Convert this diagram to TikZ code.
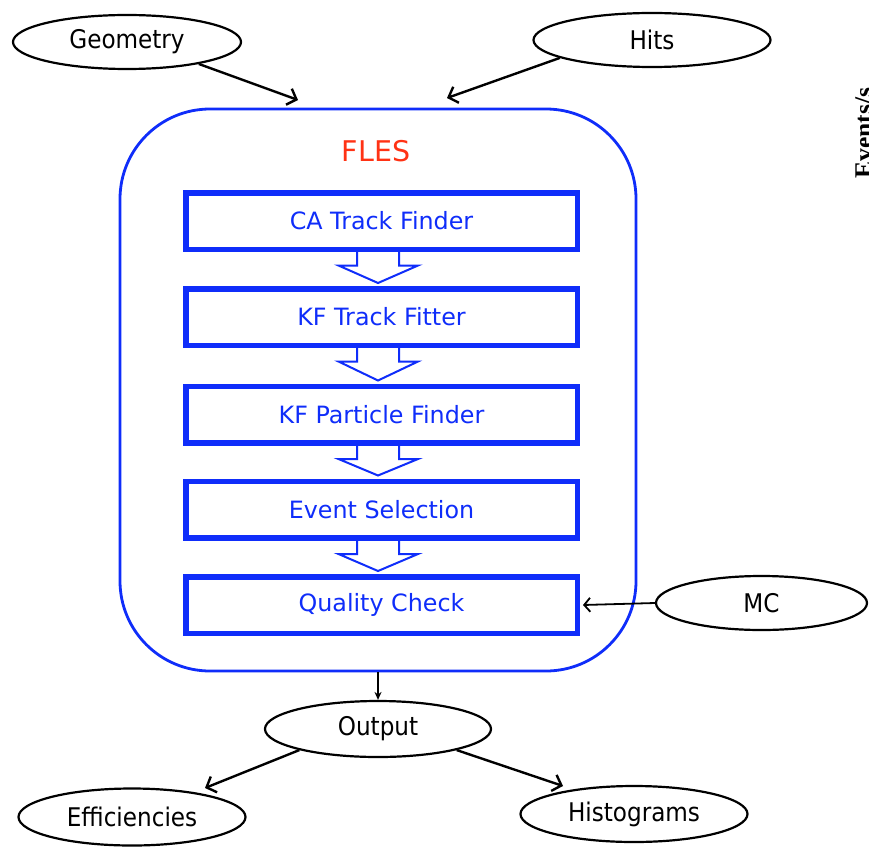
\documentclass[tikz,border=0pt]{standalone}
\usepackage{fontspec}
\setmainfont{DejaVu Sans}
\newfontfamily\condfont{DejaVu Sans Condensed}
\newfontfamily\serifbold{Liberation Serif}
\usetikzlibrary{arrows.meta,calc,shapes.geometric}
\definecolor{flesblue}{RGB}{15,45,250}
\definecolor{flesred}{RGB}{255,50,20}
\begin{document}
\begin{tikzpicture}[x=1pt,y=-1pt,
  oval/.style={draw=black,line width=2.2pt,ellipse,inner sep=0pt,
    font=\condfont\fontsize{25.7}{30}\selectfont},
  stepbox/.style={draw=flesblue,line width=5.5pt,minimum width=391.5pt,minimum height=56.5pt,
    inner sep=0pt,text=flesblue,font=\fontsize{23.8}{28}\selectfont},
  conn/.style={line width=2.4pt,-{Straight Barb[length=8pt,width=17pt,line width=2.4pt]}},
  hollow/.style={draw=flesblue,line width=2pt,line join=miter}]
\fill[white] (0,0) rectangle (869,848);
\useasboundingbox (0,0) rectangle (869,848);
\clip (0,0) rectangle (869,848);

% outer FLES frame
\node[draw=flesblue,line width=2.8pt,rounded corners=90pt,minimum width=516pt,
  minimum height=562pt,inner sep=0pt] (fles) at (378,390) {};
\node[text=flesred,font=\fontsize{28.5}{32}\selectfont] (flestitle) at (376,151) {FLES};

% process boxes
\node[stepbox] (b1) at (381.5,221) {CA Track Finder};
\node[stepbox] (b2) at (381.5,317) {KF Track Fitter};
\node[stepbox] (b3) at (381.5,414.5) {KF Particle Finder};
\node[stepbox] (b4) at (381.5,509.5) {Event Selection};
\node[stepbox] (b5) at (381.5,605) {Quality Check};

% hollow block arrows
\foreach \a/\b in {b1/b2,b2/b3,b3/b4,b4/b5}{
  \draw[hollow] ($(\a.south)+(-24.5,0)$) -- ($(\a.south)+(-24.5,13.5)$)
    -- ($(\a.south)+(-43,13.5)$) -- ($(\b.north)+(-3.5,-3)$)
    -- ($(\a.south)+(36.5,13.5)$) -- ($(\a.south)+(17.5,13.5)$)
    -- ($(\a.south)+(17.5,0)$);
}

% inputs / outputs
\node[oval,minimum width=228pt,minimum height=54pt] (geo) at (127,42) {Geometry};
\node[oval,minimum width=237pt,minimum height=54pt] (hits) at (652,40) {Hits};
\node[oval,minimum width=211pt,minimum height=54pt] (mc) at (761.5,603) {MC};
\node[oval,minimum width=226pt,minimum height=56pt] (out) at (378,729) {Output};
\node[oval,minimum width=227pt,minimum height=57pt] (eff) at (132,817) {Efficiencies};
\node[oval,minimum width=227pt,minimum height=56pt] (hist) at (634,814) {Histograms};

\coordinate (geoend) at (298,100);
\coordinate (hitsend) at (447,98);
\coordinate (effend) at (205,788);
\coordinate (histend) at (563,786);

\draw[conn] (geo.-17) -- (geoend);
\draw[conn] (hits.191) -- (hitsend);
\draw[line width=1.8pt,-{Straight Barb[length=6pt,width=14pt,line width=1.8pt]}] (mc.west) -- ($(b5.east)+(3,0)$);
\draw[line width=1.5pt,-{Stealth[length=8pt,width=7pt]}] (fles.south) -- (out.north);
\draw[conn] (out.195) -- (effend);
\draw[conn] (out.-15) -- (histend);

% cut-off axis label at right edge
\node[rotate=90,inner sep=0pt,font=\serifbold\bfseries\fontsize{25.5}{30}\selectfont,anchor=north] (evs) at (855,133) {Events/s};
\end{tikzpicture}
\end{document}
